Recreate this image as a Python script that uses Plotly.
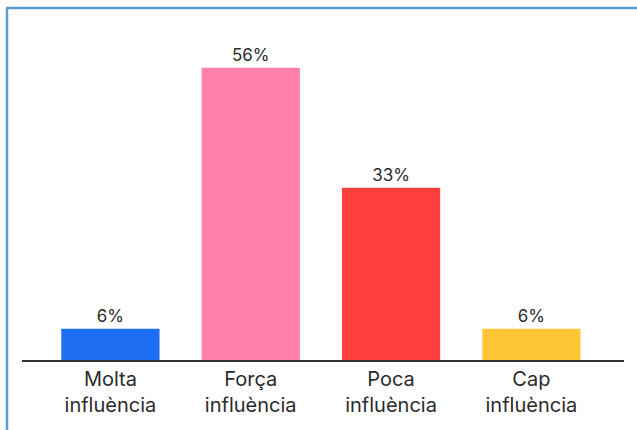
import plotly.graph_objects as go

categories = ["Molta<br>influència", "Força<br>influència", "Poca<br>influència", "Cap<br>influència"]
values = [6, 56, 33, 6]
labels = ["6%", "56%", "33%", "6%"]
colors = ["#1D6EF2", "#FF80A9", "#FF3E3E", "#FFC737"]

fig = go.Figure(go.Bar(
    x=categories, y=values, text=labels, textposition="outside",
    marker=dict(color=colors, line=dict(width=0)),
    width=0.7, cliponaxis=False,
    textfont=dict(size=17, color="#2b2b2b", family="Inter, sans-serif"),
))

W, H = 637, 430
L, R, T, B = 22, 13, 47, 70
pw, ph = W - L - R, H - T - B

def px_x(px):
    return (px - L) / pw

def px_y(py):
    return (H - B - py) / ph

border = "#5B9BD8"
fig.add_shape(type="line", xref="paper", yref="paper",
              x0=px_x(6), x1=px_x(640), y0=px_y(8), y1=px_y(8),
              line=dict(color=border, width=2.5))
fig.add_shape(type="line", xref="paper", yref="paper",
              x0=px_x(7), x1=px_x(7), y0=px_y(8), y1=px_y(440),
              line=dict(color=border, width=2.5))

fig.update_layout(
    width=W, height=H,
    margin=dict(l=L, r=R, t=T, b=B),
    paper_bgcolor="white", plot_bgcolor="white",
    showlegend=False,
    font=dict(family="Inter, sans-serif", color="#2b2b2b"),
    xaxis=dict(range=[-0.63, 3.66], showline=True, linecolor="#333333", linewidth=1.5,
               ticks="", showgrid=False, zeroline=False,
               tickfont=dict(size=20, color="#2b2b2b")),
    yaxis=dict(range=[0, 60], visible=False, showgrid=False, zeroline=False),
)

fig.write_html("out.html", config={"displayModeBar": False},
               post_script="document.body.style.margin='0';")
